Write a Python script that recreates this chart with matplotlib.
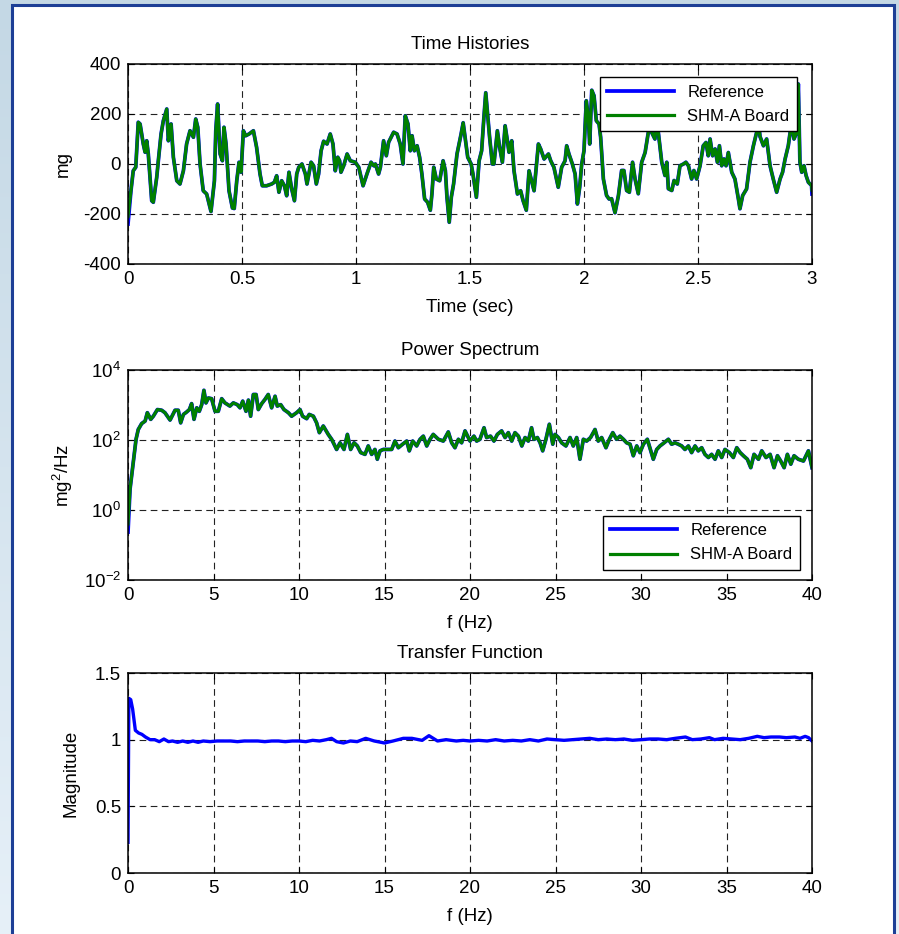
import numpy as np
import matplotlib
matplotlib.use("Agg")
import matplotlib.pyplot as plt
from matplotlib.patches import Rectangle

plt.rcParams['font.family'] = ['Liberation Sans', 'DejaVu Sans']
plt.rcParams['mathtext.default'] = 'regular'
plt.rcParams['axes.unicode_minus'] = False
plt.rcParams['font.size'] = 13.5

# ---- time histories (sec, mg) ----
th_t = [0.0, 0.013, 0.023, 0.034, 0.045, 0.053, 0.067, 0.075, 0.082, 0.089,
        0.104, 0.111, 0.126, 0.133, 0.145, 0.155, 0.170, 0.177, 0.189, 0.199,
        0.214, 0.228, 0.243, 0.257, 0.272, 0.287, 0.297, 0.306, 0.316, 0.330,
        0.345, 0.364, 0.379, 0.385, 0.393, 0.404, 0.414, 0.421, 0.430, 0.443,
        0.458, 0.466, 0.477, 0.487, 0.496, 0.506, 0.516, 0.531, 0.550, 0.564,
        0.579, 0.589, 0.608, 0.630, 0.642, 0.652, 0.662, 0.674, 0.686, 0.696,
        0.706, 0.718, 0.730, 0.740, 0.749, 0.763, 0.778, 0.785, 0.803, 0.814,
        0.826, 0.836, 0.847, 0.858, 0.873, 0.887, 0.899, 0.909, 0.920, 0.928,
        0.934, 0.946, 0.961, 0.975, 0.997, 1.012, 1.031, 1.048, 1.066, 1.078,
        1.085, 1.099, 1.107, 1.121, 1.133, 1.143, 1.154, 1.165, 1.180, 1.194,
        1.206, 1.216, 1.228, 1.238, 1.246, 1.256, 1.268, 1.279, 1.289, 1.301,
        1.314, 1.326, 1.333, 1.341, 1.352, 1.367, 1.382, 1.392, 1.399, 1.409,
        1.418, 1.428, 1.443, 1.461, 1.470, 1.490, 1.505, 1.513, 1.528, 1.540,
        1.551, 1.561, 1.569, 1.576, 1.586, 1.598, 1.605, 1.620, 1.630, 1.642,
        1.654, 1.664, 1.671, 1.683, 1.693, 1.708, 1.722, 1.733, 1.747, 1.759,
        1.770, 1.781, 1.800, 1.810, 1.825, 1.844, 1.854, 1.868, 1.887, 1.902,
        1.917, 1.924, 1.934, 1.949, 1.961, 1.971, 1.981, 1.990, 2.000, 2.010,
        2.019, 2.025, 2.034, 2.044, 2.054, 2.066, 2.073, 2.085, 2.099, 2.110,
        2.121, 2.136, 2.151, 2.165, 2.175, 2.187, 2.199, 2.213, 2.224, 2.238,
        2.253, 2.268, 2.282, 2.290, 2.297, 2.311, 2.320, 2.326, 2.341, 2.355,
        2.363, 2.370, 2.385, 2.395, 2.409, 2.421, 2.436, 2.447, 2.458, 2.472,
        2.482, 2.494, 2.509, 2.523, 2.535, 2.545, 2.553, 2.564, 2.575, 2.585,
        2.594, 2.604, 2.614, 2.623, 2.633, 2.648, 2.662, 2.677, 2.684, 2.696,
        2.713, 2.728, 2.743, 2.757, 2.765, 2.772, 2.787, 2.801, 2.816, 2.830,
        2.845, 2.860, 2.871, 2.882, 2.896, 2.904, 2.911, 2.921, 2.933, 2.940,
        2.947, 2.955, 2.965, 2.974, 2.984, 2.998, 3.000]
th_ref = [-240, -107, -27, -13, 167, 160, 80, 47, 93, 40,
          -147, -153, -53, 13, 120, 173, 220, 93, 160, 27,
          -67, -80, -27, 80, 133, 107, 180, 147, 0, -107,
          -120, -190, -67, 133, 240, 40, 13, 147, 80, -107,
          -176, -178, -67, 7, -33, 133, 113, 120, 133, 67,
          -40, -87, -87, -80, -73, -47, -113, -67, -87, -127,
          -33, -100, -147, -40, -13, 0, -40, -80, 7, -7,
          -80, -40, 53, 91, 80, 120, 80, -27, 27, 13,
          -33, -7, 40, 13, 7, -13, -87, -40, 7, -7,
          0, -40, -13, 93, 33, 87, 107, 127, 120, 80,
          0, 193, 160, 53, 113, 53, 73, 27, -40, -140,
          -153, -185, -120, -13, -60, -67, 13, -27, -133, -233,
          -133, -80, 40, 120, 165, 27, 0, -40, -133, 13,
          53, 187, 285, 213, 107, 0, 0, 133, 67, 7,
          153, 93, 47, 93, -27, -120, -107, -147, -185, -27,
          -67, -107, 80, 60, 20, 40, 13, -13, -93, -13,
          13, 73, 40, 0, -40, -160, -93, 0, 53, 253,
          187, 80, 295, 273, 173, 160, 107, -60, -126, -140,
          -139, -195, -126, -26, -26, -106, -113, 7, -60, -119,
          7, 46, 126, 230, 126, 100, 200, 126, 7, -46,
          7, -99, -106, -66, -80, -7, 0, 7, -7, -60,
          -26, -60, -7, 73, 86, 33, 100, 33, 60, 7,
          73, -7, 20, -7, 46, -33, -60, -139, -179, -126,
          -100, 7, 73, 126, 170, 110, 73, 100, -7, -60,
          -113, -60, -33, 20, 73, 126, 160, 100, 126, 320,
          7, -33, -7, -46, -73, -86, -120]
th_board = list(th_ref)
th_board[0] = -210
th_board[-1] = -105

# ---- power spectrum (Hz, log10 mg^2/Hz) ----
psd_f = [0.0, 0.12, 0.31, 0.47, 0.60, 0.80, 1.00, 1.13, 1.33, 1.48,
         1.72, 1.97, 2.16, 2.46, 2.75, 2.94, 3.08, 3.24, 3.43, 3.59,
         3.72, 3.86, 4.02, 4.17, 4.31, 4.44, 4.56, 4.70, 4.89, 5.09,
         5.28, 5.48, 5.67, 5.96, 6.16, 6.39, 6.55, 6.71, 6.90, 7.04,
         7.17, 7.33, 7.49, 7.62, 7.82, 8.01, 8.20, 8.40, 8.60, 8.73,
         8.93, 9.12, 9.38, 9.57, 9.86, 10.06, 10.21, 10.45, 10.60, 10.84,
         11.03, 11.19, 11.42, 11.71, 11.91, 12.20, 12.40, 12.63, 12.83, 13.02,
         13.22, 13.41, 13.61, 13.86, 14.05, 14.25, 14.44, 14.58, 14.74, 14.93,
         15.13, 15.42, 15.61, 15.81, 16.06, 16.30, 16.45, 16.65, 16.88, 17.08,
         17.27, 17.47, 17.66, 17.85, 18.15, 18.44, 18.73, 18.93, 19.12, 19.32,
         19.51, 19.71, 19.90, 20.00, 20.23, 20.39, 20.58, 20.82, 20.97, 21.20,
         21.40, 21.60, 21.85, 22.05, 22.24, 22.44, 22.63, 22.83, 23.03, 23.22,
         23.41, 23.60, 23.74, 23.94, 24.10, 24.25, 24.44, 24.64, 24.84, 24.97,
         25.17, 25.36, 25.61, 25.85, 26.04, 26.24, 26.43, 26.63, 26.82, 27.05,
         27.31, 27.50, 27.70, 27.95, 28.15, 28.35, 28.57, 28.77, 28.97, 29.16,
         29.36, 29.55, 29.75, 29.94, 30.14, 30.37, 30.57, 30.72, 30.92, 31.11,
         31.35, 31.60, 31.79, 31.99, 32.18, 32.38, 32.57, 32.77, 32.96, 33.16,
         33.35, 33.55, 33.74, 33.94, 34.13, 34.33, 34.52, 34.72, 34.91, 35.17,
         35.40, 35.60, 35.80, 35.99, 36.22, 36.42, 36.61, 36.87, 37.06, 37.31,
         37.55, 37.78, 37.98, 38.17, 38.37, 38.56, 38.76, 38.95, 39.20, 39.50,
         39.79, 40.00]
psd_ref_log = [-0.63, 0.6, 1.36, 2.02, 2.3, 2.47, 2.54, 2.78, 2.59, 2.68,
               2.87, 2.85, 2.78, 2.57, 2.85, 2.85, 2.49, 2.73, 2.80, 2.87,
               3.04, 2.59, 2.92, 2.82, 3.01, 3.42, 3.06, 3.20, 3.18, 2.82,
               2.82, 3.18, 3.06, 2.97, 3.06, 3.01, 2.92, 3.11, 2.82, 3.14,
               2.68, 3.30, 3.30, 2.87, 3.04, 3.16, 3.30, 2.92, 3.25, 2.97,
               3.01, 2.87, 2.78, 2.68, 2.78, 2.87, 2.68, 2.61, 2.73, 2.68,
               2.49, 2.21, 2.40, 2.16, 2.02, 1.73, 1.92, 1.73, 2.16, 1.73,
               1.92, 1.83, 1.64, 1.59, 1.83, 1.59, 1.73, 1.45, 1.69, 1.73,
               1.73, 1.73, 1.97, 1.78, 1.88, 1.97, 1.69, 1.97, 1.83, 2.02,
               2.11, 1.83, 2.02, 2.16, 2.02, 1.97, 2.23, 1.92, 1.78, 2.02,
               1.92, 2.26, 2.07, 1.97, 2.11, 1.97, 2.02, 2.35, 2.07, 2.11,
               1.97, 2.16, 2.26, 2.07, 2.21, 1.97, 2.21, 2.11, 1.83, 2.07,
               1.97, 2.35, 2.02, 2.07, 1.92, 1.69, 2.02, 2.45, 1.88, 2.16,
               2.07, 1.92, 1.83, 2.07, 1.83, 2.07, 1.45, 2.02, 1.97, 2.07,
               2.30, 1.97, 2.07, 1.78, 2.02, 2.21, 2.02, 2.11, 2.02, 1.92,
               1.88, 1.55, 1.83, 1.64, 1.88, 2.02, 1.69, 1.45, 1.73, 1.83,
               1.92, 2.02, 1.88, 1.92, 1.88, 1.83, 1.73, 1.83, 1.64, 1.83,
               1.69, 1.78, 1.59, 1.50, 1.59, 1.45, 1.69, 1.50, 1.73, 1.64,
               1.50, 1.78, 1.64, 1.55, 1.45, 1.21, 1.59, 1.45, 1.69, 1.50,
               1.59, 1.21, 1.55, 1.40, 1.21, 1.59, 1.31, 1.55, 1.45, 1.40,
               1.69, 1.21]
psd_board_log = list(psd_ref_log)
psd_board_log[0] = -0.4

# ---- transfer function (Hz, magnitude) ----
tf_f = [0.0, 0.05, 0.16, 0.27, 0.43, 0.62, 0.81, 1.02, 1.29, 1.56,
        1.83, 2.1, 2.37, 2.6, 2.9, 3.2, 3.5, 3.8, 4.1, 4.4,
        4.8, 5.2, 5.6, 6.0, 6.4, 6.8, 7.2, 7.6, 8.0, 8.4,
        8.8, 9.2, 9.6, 10.0, 10.4, 10.8, 11.2, 11.6, 11.9, 12.2,
        12.6, 13.0, 13.4, 13.9, 14.4, 15.0, 15.5, 16.1, 16.6, 17.2,
        17.6, 18.1, 18.6, 19.2, 19.6, 20.0, 20.5, 21.0, 21.5, 22.0,
        22.5, 23.0, 23.5, 24.0, 24.5, 25.0, 25.5, 26.0, 26.5, 27.0,
        27.5, 28.0, 28.5, 29.0, 29.5, 30.0, 30.5, 31.0, 31.5, 32.0,
        32.6, 33.0, 33.5, 34.0, 34.3, 34.8, 35.3, 35.8, 36.3, 36.8,
        37.2, 37.6, 38.1, 38.5, 39.0, 39.3, 39.6, 39.8, 40.0]
tf_mag = [0.23, 1.31, 1.30, 1.23, 1.07, 1.05, 1.04, 1.02, 1.00, 1.00,
          0.985, 1.005, 0.985, 0.99, 0.98, 0.99, 0.98, 0.99, 0.98, 0.99,
          0.985, 0.99, 0.99, 0.99, 0.985, 0.99, 0.99, 0.99, 0.985, 0.99,
          0.99, 0.985, 0.99, 0.99, 0.985, 0.995, 0.99, 1.0, 1.01, 0.985,
          0.975, 0.99, 0.985, 1.01, 0.99, 0.975, 0.99, 1.01, 1.01, 0.995,
          1.03, 0.99, 1.0, 0.99, 0.995, 0.99, 0.995, 0.99, 1.0, 0.99,
          0.995, 0.99, 1.0, 0.99, 1.005, 1.0, 0.995, 1.0, 1.005, 1.01,
          1.0, 1.005, 1.0, 1.005, 0.995, 1.0, 1.005, 1.005, 1.0, 1.01,
          1.02, 1.0, 1.005, 1.015, 1.0, 1.01, 1.005, 1.0, 1.01, 1.025,
          1.015, 1.02, 1.02, 1.015, 1.02, 1.01, 1.025, 1.015, 0.99]

W, H = 899, 934
fig = plt.figure(figsize=(W / 100, H / 100), dpi=100)

# light blue backdrop with white framed panel
bg = fig.add_axes([0, 0, 1, 1], zorder=-10)
grad = np.linspace(0, 1, 256).reshape(-1, 1)
bg.imshow(grad, aspect='auto', cmap=matplotlib.colors.LinearSegmentedColormap.from_list(
    'bg', ['#c4d8e5', '#e6f0f8']), extent=[0, 1, 0, 1], origin='upper')
bg.set_axis_off()
fig.add_artist(Rectangle((12 / W, -0.02), (894 - 12) / W, 1.02 - 5 / H,
                         transform=fig.transFigure, facecolor='white',
                         edgecolor='#1d3f96', linewidth=2.2, zorder=-5))

left = 128 / W
width = (812 - 128) / W


def fy(top, bottom):
    return [left, 1 - bottom / H, width, (bottom - top) / H]


grid_kw = dict(color='#222222', linestyle=(0, (6, 4)), linewidth=0.8)


def style(ax):
    ax.grid(True, **grid_kw)
    ax.tick_params(direction='in', top=True, right=True, length=4, width=0.8,
                   labelsize=13.5, pad=5)
    for s in ax.spines.values():
        s.set_linewidth(1.1)


leg_kw = dict(fontsize=12, handlelength=4.0, fancybox=False, framealpha=1,
              edgecolor='black', borderpad=0.45, labelspacing=0.55,
              borderaxespad=0)

# time histories
ax1 = fig.add_axes(fy(64, 264))
ax1.plot(th_t, th_ref, color='#0000ff', lw=2.7, label='Reference')
ax1.plot(th_t, th_board, color='#008000', lw=2.3, label='SHM-A Board')
ax1.set_xlim(0, 3)
ax1.set_ylim(-400, 400)
ax1.set_xticks([0, 0.5, 1, 1.5, 2, 2.5, 3])
ax1.set_xticklabels(['0', '0.5', '1', '1.5', '2', '2.5', '3'])
ax1.set_yticks([-400, -200, 0, 200, 400])
ax1.set_title('Time Histories', fontsize=13.5, pad=11)
ax1.set_xlabel('Time (sec)', fontsize=13.5, labelpad=8)
ax1.set_ylabel('mg', fontsize=13.5, labelpad=8)
style(ax1)
leg1 = ax1.legend(loc='upper right', bbox_to_anchor=(0.978, 0.935), **leg_kw)
leg1.get_frame().set_linewidth(1.0)

# power spectrum
ax2 = fig.add_axes(fy(370, 580))
ax2.semilogy(psd_f, 10 ** np.array(psd_ref_log), color='#0000ff', lw=2.7,
             label='Reference')
ax2.semilogy(psd_f, 10 ** np.array(psd_board_log), color='#008000', lw=2.3,
             label='SHM-A Board')
ax2.set_xlim(0, 40)
ax2.set_ylim(1e-2, 1e4)
ax2.set_yticks([1e-2, 1e0, 1e2, 1e4])
ax2.yaxis.set_minor_locator(matplotlib.ticker.NullLocator())
ax2.set_xticks(range(0, 41, 5))
ax2.set_title('Power Spectrum', fontsize=13.5, pad=11)
ax2.set_xlabel('f (Hz)', fontsize=13.5, labelpad=8)
ax2.set_ylabel('mg$^2$/Hz', fontsize=13.5, labelpad=6)
style(ax2)
leg2 = ax2.legend(loc='lower right', bbox_to_anchor=(0.9825, 0.048), **leg_kw)
leg2.get_frame().set_linewidth(1.0)

# transfer function
ax3 = fig.add_axes(fy(673, 873))
ax3.plot(tf_f, tf_mag, color='#0000ff', lw=2.4)
ax3.set_xlim(0, 40)
ax3.set_ylim(0, 1.5)
ax3.set_xticks(range(0, 41, 5))
ax3.set_yticks([0, 0.5, 1, 1.5])
ax3.set_yticklabels(['0', '0.5', '1', '1.5'])
ax3.set_title('Transfer Function', fontsize=13.5, pad=11)
ax3.set_xlabel('f (Hz)', fontsize=13.5, labelpad=8)
ax3.set_ylabel('Magnitude', fontsize=13.5, labelpad=11)
style(ax3)

fig.savefig('out.png', dpi=100)
